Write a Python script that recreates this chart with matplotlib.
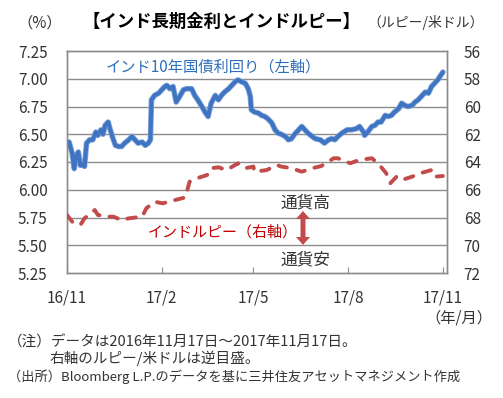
import numpy as np
import matplotlib
matplotlib.use("Agg")
import matplotlib.pyplot as plt
from matplotlib.patches import FancyArrow

plt.rcParams['font.family'] = ['Noto Sans CJK JP', 'DejaVu Sans']

W, H = 503, 398
start = np.datetime64('2016-11-17')

# India 10y government bond yield (%), days from 2016-11-17
yield_days = [0, 2, 5, 7, 9, 11, 13, 15, 17, 19, 22, 25, 28, 30, 33, 35, 37, 40, 42, 44,
              47, 50, 53, 56, 60, 63, 66, 69, 73, 76, 79, 81, 82, 85, 89, 92, 95, 97, 100, 103,
              106, 110, 113, 116, 121, 124, 127, 131, 134, 137, 140, 144, 147, 150, 153, 157,
              160, 163, 166, 170, 173, 176, 178, 179, 182, 186, 189, 192, 195, 199, 202, 205,
              208, 212, 215, 218, 221, 225, 228, 231, 234, 241, 246, 250, 254, 257, 260, 263,
              267, 272, 276, 281, 284, 288, 289, 292, 296, 299, 302, 305, 309, 312, 315, 318,
              322, 325, 328, 331, 335, 338, 341, 344, 348, 351, 354, 357, 360, 365]
yield_pct = [6.43, 6.43, 6.33, 6.19, 6.31, 6.34, 6.22, 6.23, 6.21, 6.42, 6.45, 6.45, 6.52, 6.49,
             6.54, 6.50, 6.58, 6.61, 6.54, 6.48, 6.40, 6.39, 6.39, 6.42, 6.45, 6.48, 6.45, 6.42,
             6.43, 6.40, 6.42, 6.45, 6.81, 6.85, 6.87, 6.90, 6.93, 6.94, 6.91, 6.93, 6.79, 6.85,
             6.90, 6.91, 6.91, 6.85, 6.81, 6.75, 6.70, 6.66, 6.78, 6.85, 6.81, 6.85, 6.88, 6.91,
             6.94, 6.97, 6.99, 6.97, 6.96, 6.91, 6.84, 6.72, 6.70, 6.69, 6.67, 6.66, 6.64, 6.60,
             6.54, 6.51, 6.50, 6.48, 6.45, 6.46, 6.50, 6.54, 6.57, 6.54, 6.51, 6.46, 6.45, 6.42,
             6.45, 6.46, 6.45, 6.48, 6.51, 6.54, 6.54, 6.55, 6.57, 6.52, 6.49, 6.52, 6.57, 6.58,
             6.61, 6.61, 6.67, 6.66, 6.67, 6.70, 6.73, 6.78, 6.76, 6.75, 6.76, 6.79, 6.81, 6.84,
             6.88, 6.87, 6.93, 6.96, 6.99, 7.06]

# rupee per US dollar (right axis, inverted)
inr_days = [0, 5, 13, 17, 27, 30, 40, 45, 53, 60, 73, 77, 85, 93, 105, 115, 119, 126, 136, 140,
            147, 155, 166, 173, 181, 182, 194, 204, 208, 218, 228, 238, 247, 259, 263, 275, 284,
            296, 302, 310, 314, 320, 325, 335, 343, 354, 357, 365]
inr_usd = [67.82, 68.30, 68.54, 68.06, 67.46, 67.82, 67.94, 67.94, 68.18, 68.06, 67.94, 67.34,
           66.86, 66.98, 66.74, 66.55, 65.42, 65.18, 64.94, 64.45, 64.38, 64.58, 64.09, 64.45,
           64.33, 64.70, 64.58, 64.22, 64.33, 64.45, 64.70, 64.45, 64.29, 63.73, 63.73, 64.09,
           63.85, 63.73, 64.09, 64.81, 65.53, 65.06, 65.30, 65.06, 64.81, 64.58, 65.06, 65.01]

left_ticks = [5.25, 5.50, 5.75, 6.00, 6.25, 6.50, 6.75, 7.00, 7.25]
right_ticks = [56, 58, 60, 62, 64, 66, 68, 70, 72]
x_tick_days = [0, 92, 181, 273, 365]
x_tick_labels = ['16/11', '17/2', '17/5', '17/8', '17/11']

blue = '#3f74c2'
red = '#c24b4b'
grid = '#8c8c8c'
txt = '#333333'


def days_to_dates(d):
    return start + np.array(d).astype('timedelta64[D]')


fig = plt.figure(figsize=(W / 100, H / 100), dpi=100)
ax = fig.add_axes([67 / W, 1 - 273 / H, 380 / W, 222 / H])
ax2 = ax.twinx()

ax.plot(days_to_dates(yield_days), yield_pct, color='#7fa3d9', lw=4.0, solid_joinstyle='round',
        solid_capstyle='round', zorder=3)
ax.plot(days_to_dates(yield_days), yield_pct, color=blue, lw=2.8, solid_joinstyle='round',
        solid_capstyle='round', zorder=3)
ax2.plot(days_to_dates(inr_days), inr_usd, color=red, lw=2.8, linestyle=(0, (2.2, 2.6)),
         dash_capstyle='round', zorder=3)

ax.set_ylim(5.25, 7.25)
ax.set_yticks(left_ticks)
ax.set_yticklabels([f'{v:.2f}' for v in left_ticks])
ax2.set_ylim(72, 56)
ax2.set_yticks(right_ticks)
ax.set_xlim(start, start + np.timedelta64(369, 'D'))
ax.set_xticks(days_to_dates(x_tick_days))
ax.set_xticklabels(x_tick_labels)

for v in left_ticks[1:-1]:
    ax.axhline(v, color=grid, lw=1, zorder=1)

for a in (ax, ax2):
    for s in a.spines.values():
        s.set_color(grid)
        s.set_linewidth(1)
ax.tick_params(axis='y', length=0, pad=14, labelsize=11, labelcolor=txt)
ax2.tick_params(axis='y', length=0, pad=12, labelsize=11, labelcolor=txt)
ax.tick_params(axis='x', direction='in', length=4, color=grid, pad=12, labelsize=11, labelcolor=txt)

# titles and units
fig.text(40 / W, 1 - 23 / H, '（%）', ha='center', va='center', fontsize=11, color=txt)
fig.text(221 / W, 1 - 22 / H, '【インド長期金利とインドルピー】', ha='center', va='center',
         fontsize=12.5, fontweight='bold', color='#000000')
fig.text(484 / W, 1 - 23 / H, '（ルピー/米ドル）', ha='right', va='center', fontsize=10, color=txt)
fig.text(492 / W, 1 - 318 / H, '（年/月）', ha='right', va='center', fontsize=11, color=txt)

# series labels
fig.text(106 / W, 1 - 67 / H, 'インド10年国債利回り（左軸）', ha='left', va='center',
         fontsize=11, color='#2f6fba')
fig.text(148 / W, 1 - 232 / H, 'インドルピー（右軸）', ha='left', va='center',
         fontsize=10.8, color='#c00000')
fig.text(305 / W, 1 - 203 / H, '通貨高', ha='center', va='center', fontsize=12, color=txt)
fig.text(305 / W, 1 - 260 / H, '通貨安', ha='center', va='center', fontsize=12, color=txt)

# double-headed arrow (two heads pointing out from the middle)
mid = 1 - 228 / H
half = 17 / H
for d in (half, -half):
    fig.add_artist(FancyArrow(303 / W, mid, 0, d, width=5 / W, head_width=14 / W,
                              head_length=8 / H, length_includes_head=True,
                              color=red, lw=0, transform=fig.transFigure))

# notes
fig.text(8 / W, 1 - 342 / H, '（注）データは2016年11月17日～2017年11月17日。', ha='left', va='center',
         fontsize=10.5, color=txt)
fig.text(50 / W, 1 - 358 / H, '右軸のルピー/米ドルは逆目盛。', ha='left', va='center',
         fontsize=10.5, color=txt)
fig.text(8 / W, 1 - 377 / H, '（出所）Bloomberg L.P.のデータを基に三井住友アセットマネジメント作成',
         ha='left', va='center', fontsize=9.5, color=txt)

fig.savefig('out.png', dpi=100)
